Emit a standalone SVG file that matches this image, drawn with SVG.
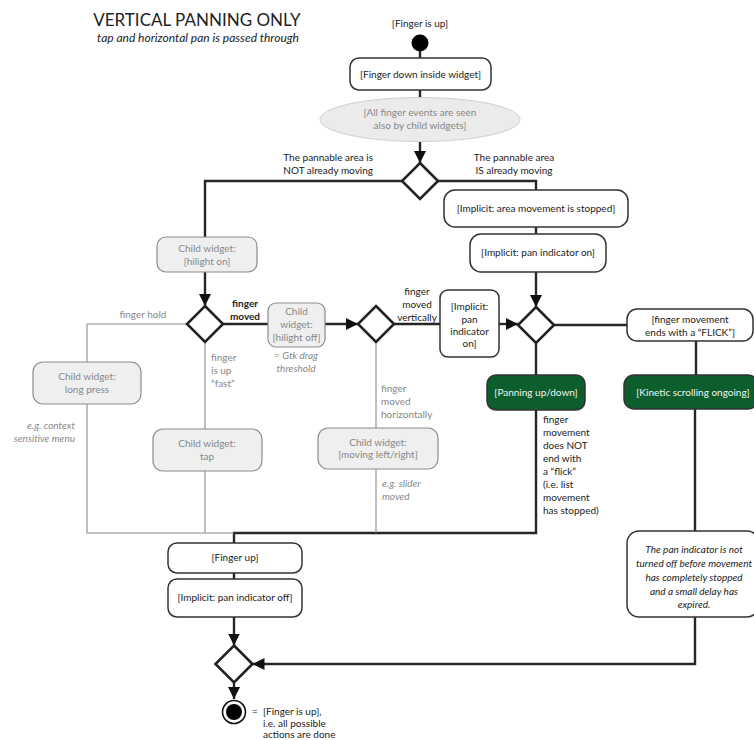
<svg xmlns="http://www.w3.org/2000/svg" width="754" height="740" viewBox="0 0 754 740">
  <style>
    text { font-family: Lato, "Liberation Sans", sans-serif; font-size: 10px; fill: #222; }
    .c { text-anchor: middle; }
    .r { text-anchor: end; }
    .g { fill: #888; }
    .i { font-style: italic; }
    .w { fill: #f4f4f4; }
    .box { fill: #fff; stroke: #333; stroke-width: 1.5; }
    .gbox { fill: #efefef; stroke: #8c8c8c; stroke-width: 1.2; }
    .green { fill: #0c5e2d; stroke: #333; stroke-width: 1.5; }
    .dia { fill: #fff; stroke: #222; stroke-width: 2.6; }
    .flow { fill: none; stroke: #262626; stroke-width: 2.4; }
    .thin { fill: none; stroke: #8c8c8c; stroke-width: 1.1; }
  </style>
  <defs>
    <marker id="arrow" markerUnits="userSpaceOnUse" markerWidth="12" markerHeight="12" viewBox="0 0 12 12" refX="12" refY="6" orient="auto">
      <path d="M0,0 L12,6 L0,12 Z" fill="#111"/>
    </marker>
  </defs>

  <!-- heading -->
  <text x="197" y="26" class="c" style="font-size:17px">VERTICAL PANNING ONLY</text>
  <text x="198" y="42" class="c i" style="font-size:12px">tap and horizontal pan is passed through</text>

  <!-- connectors -->
  <g id="connectors">
    <path class="flow" d="M420,51 V58"/>
    <path class="flow" d="M420,90 V97"/>
    <path class="flow" d="M420,142 V163" marker-end="url(#arrow)"/>
    <path class="flow" d="M402,181 H205 V237"/>
    <path class="flow" d="M438,181 H536 V190"/>
    <path class="flow" d="M536,227 V234"/>
    <path class="flow" d="M536,272 V307" marker-end="url(#arrow)"/>
    <path class="flow" d="M554,325 H627"/>
    <path class="flow" d="M696,341 V375"/>
    <path class="flow" d="M695,409 V531"/>
    <path class="flow" d="M695,617 V664 H252.5" marker-end="url(#arrow)"/>
    <path class="flow" d="M536,343 V375"/>
    <path class="flow" d="M536,410 V533 H234 V543"/>
    <path class="flow" d="M234,573 V579"/>
    <path class="flow" d="M234,617 V645.5" marker-end="url(#arrow)"/>
    <path class="flow" d="M234,682.5 V699" marker-end="url(#arrow)"/>
    <path class="flow" d="M205,272 V306" marker-end="url(#arrow)"/>
    <path class="flow" d="M223,324 H268"/>
    <path class="flow" d="M325,324 H358" marker-end="url(#arrow)"/>
    <path class="flow" d="M394,324 H440"/>
    <path class="flow" d="M499,324 H518" marker-end="url(#arrow)"/>
    <path class="thin" d="M187,324 H87 V362"/>
    <path class="thin" d="M87,404 V533 H234"/>
    <path class="thin" d="M205,342 V429"/>
    <path class="thin" d="M205,471 V533"/>
    <path class="thin" d="M376,342 V428"/>
    <path class="thin" d="M376,469 V533"/>
  </g>

  <!-- connector labels -->
  <g id="labels">
    <text x="373" y="161" class="r">The pannable area is</text>
    <text x="373" y="174" class="r">NOT already moving</text>
    <text x="514" y="161" class="c">The pannable area</text>
    <text x="514" y="174" class="c">IS already moving</text>
    <text x="143" y="318" class="c g">finger hold</text>
    <text x="245" y="307" class="c" style="font-weight:bold">finger</text>
    <text x="245" y="320" class="c" style="font-weight:bold">moved</text>
    <text x="211" y="361" class="g">finger</text>
    <text x="211" y="374" class="g">is up</text>
    <text x="211" y="387" class="g">“fast”</text>
    <text x="296" y="359" class="c g i">= Gtk drag</text>
    <text x="296" y="372" class="c g i">threshold</text>
    <text x="75" y="429" class="r g i">e.g. context</text>
    <text x="75" y="442" class="r g i">sensitive menu</text>
    <text x="417" y="295" class="c">finger</text>
    <text x="417" y="308" class="c">moved</text>
    <text x="417" y="321" class="c">vertically</text>
    <text x="381" y="392" class="g">finger</text>
    <text x="381" y="405" class="g">moved</text>
    <text x="381" y="418" class="g">horizontally</text>
    <text x="382" y="487" class="g i">e.g. slider</text>
    <text x="382" y="500" class="g i">moved</text>
    <text x="543" y="423">finger</text>
    <text x="543" y="436">movement</text>
    <text x="543" y="449">does NOT</text>
    <text x="543" y="462">end with</text>
    <text x="543" y="475">a “flick”</text>
    <text x="543" y="488">(i.e. list</text>
    <text x="543" y="501">movement</text>
    <text x="543" y="514">has stopped)</text>
  </g>

  <!-- nodes -->
  <g id="start">
    <text x="420" y="27" class="c">[Finger is up]</text>
    <circle cx="420" cy="43" r="8.5" fill="#000"/>
  </g>
  <g id="finger-down">
    <rect x="350" y="58" width="141" height="32" rx="9" class="box"/>
    <text x="420.5" y="77.5" class="c">[Finger down inside widget]</text>
  </g>
  <g id="child-events">
    <ellipse cx="420" cy="119.5" rx="100" ry="22" fill="#ebebeb" stroke="#cfcfcf" stroke-width="1"/>
    <text x="420" y="116" class="c g">[All finger events are seen</text>
    <text x="420" y="129" class="c g">also by child widgets]</text>
  </g>
  <g id="decision-moving">
    <path d="M420,163 L438,181 L420,199 L402,181 Z" class="dia"/>
  </g>
  <g id="area-stopped">
    <rect x="444" y="190" width="184" height="37" rx="11" class="box"/>
    <text x="536" y="211.5" class="c">[Implicit: area movement is stopped]</text>
  </g>
  <g id="pan-indicator-on">
    <rect x="470" y="234" width="136" height="38" rx="11" class="box"/>
    <text x="538" y="256" class="c">[Implicit: pan indicator on]</text>
  </g>
  <g id="decision-pan">
    <path d="M536,307 L554,325 L536,343 L518,325 Z" class="dia"/>
  </g>
  <g id="flick">
    <rect x="627" y="309" width="126" height="32" rx="10" class="box"/>
    <text x="690" y="322.5" class="c">[finger movement</text>
    <text x="690" y="335.5" class="c">ends with a “FLICK”]</text>
  </g>
  <g id="kinetic">
    <rect x="624" y="375" width="134" height="34" rx="10" class="green"/>
    <text x="693" y="395.5" class="c w">[Kinetic scrolling ongoing]</text>
  </g>
  <g id="delay-note">
    <rect x="627" y="531" width="132" height="86" rx="12" class="box"/>
    <text x="694" y="553" class="c i">The pan indicator is not</text>
    <text x="694" y="567" class="c i">turned off before movement</text>
    <text x="694" y="581" class="c i">has completely stopped</text>
    <text x="694" y="595" class="c i">and a small delay has</text>
    <text x="694" y="608" class="c i">expired.</text>
  </g>
  <g id="panning">
    <rect x="487" y="375" width="98" height="35" rx="9" class="green"/>
    <text x="536" y="396" class="c w">[Panning up/down]</text>
  </g>
  <g id="hilight-on">
    <rect x="157" y="237" width="100" height="35" rx="9" class="gbox"/>
    <text x="207" y="252" class="c g">Child widget:</text>
    <text x="207" y="265" class="c g">[hilight on]</text>
  </g>
  <g id="decision-child">
    <path d="M205,306 L223,324 L205,342 L187,324 Z" class="dia"/>
  </g>
  <g id="long-press">
    <rect x="33" y="362" width="108" height="42" rx="10" class="gbox"/>
    <text x="87" y="380" class="c g">Child widget:</text>
    <text x="87" y="393" class="c g">long press</text>
  </g>
  <g id="tap">
    <rect x="153" y="429" width="109" height="42" rx="10" class="gbox"/>
    <text x="207" y="447" class="c g">Child widget:</text>
    <text x="207" y="460" class="c g">tap</text>
  </g>
  <g id="hilight-off">
    <rect x="268" y="303" width="57" height="44" rx="8" class="gbox"/>
    <text x="296.5" y="315" class="c g">Child</text>
    <text x="296.5" y="328" class="c g">widget:</text>
    <text x="296.5" y="341" class="c g">[hilight off]</text>
  </g>
  <g id="decision-direction">
    <path d="M376,306 L394,324 L376,342 L358,324 Z" class="dia"/>
  </g>
  <g id="pan-indicator-on-2">
    <rect x="440" y="290" width="59" height="67" rx="8" class="box"/>
    <text x="469.5" y="310" class="c">[Implicit:</text>
    <text x="469.5" y="323" class="c">pan</text>
    <text x="469.5" y="335" class="c">indicator</text>
    <text x="469.5" y="347" class="c">on]</text>
  </g>
  <g id="moving-left-right">
    <rect x="318" y="428" width="120" height="41" rx="10" class="gbox"/>
    <text x="378" y="446" class="c g">Child widget:</text>
    <text x="378" y="458" class="c g">[moving left/right]</text>
  </g>
  <g id="finger-up">
    <rect x="168" y="543" width="134" height="30" rx="9" class="box"/>
    <text x="235" y="561" class="c">[Finger up]</text>
  </g>
  <g id="pan-indicator-off">
    <rect x="168" y="579" width="134" height="38" rx="9" class="box"/>
    <text x="235" y="601" class="c">[Implicit: pan indicator off]</text>
  </g>
  <g id="merge">
    <path d="M234,645.5 L252.5,664 L234,682.5 L215.5,664 Z" class="dia"/>
  </g>
  <g id="end">
    <circle cx="234" cy="712" r="11.5" fill="#fff" stroke="#111" stroke-width="1.6"/>
    <circle cx="234" cy="712" r="8" fill="#000"/>
    <text x="252" y="715">=</text>
    <text x="263" y="715">[Finger is up],</text>
    <text x="263" y="727">i.e. all possible</text>
    <text x="263" y="738">actions are done</text>
  </g>
</svg>
